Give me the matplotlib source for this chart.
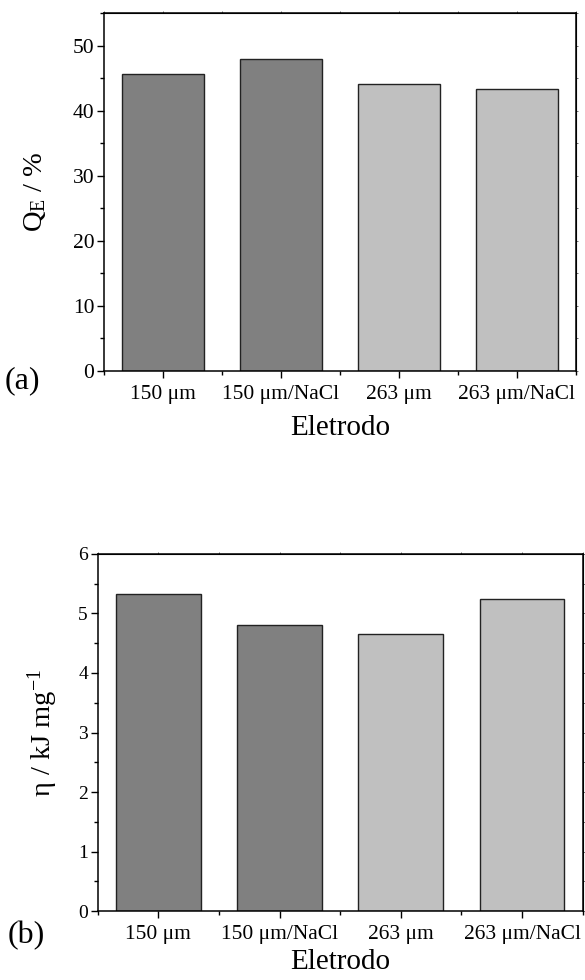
import matplotlib
matplotlib.use("Agg")
import matplotlib.pyplot as plt
from matplotlib.ticker import MultipleLocator

# dados
eletrodos = ["150 μm", "150 μm/NaCl", "263 μm", "263 μm/NaCl"]
qe = [45.6, 48.0, 44.2, 43.3]          # Q_E / %
eta = [5.32, 4.80, 4.66, 5.25]         # η / kJ mg^-1
cores = ["#808080", "#808080", "#c0c0c0", "#c0c0c0"]

plt.rcParams["font.family"] = ["Liberation Serif", "DejaVu Serif"]
plt.rcParams["mathtext.fontset"] = "custom"
plt.rcParams["mathtext.rm"] = "Liberation Serif"
plt.rcParams["mathtext.it"] = "Liberation Serif:italic"

fig = plt.figure(figsize=(5.85, 9.8), dpi=100)
ax1 = fig.add_axes([0.1778, 0.6217, 0.8068, 0.3647])
ax2 = fig.add_axes([0.167, 0.0704, 0.829, 0.3643])


def painel(ax, vals, ymax, major, minor, ylabel, ysize):
    x = list(range(1, len(vals) + 1))
    ax.bar(x, vals, width=0.7, color=cores, edgecolor="#222222", linewidth=1.0)
    ax.set_xlim(0.5, len(vals) + 0.5)
    ax.set_ylim(0, ymax)
    ax.set_xticks(x)
    ax.set_xticklabels(eletrodos, fontsize=15.5)
    ax.xaxis.set_minor_locator(MultipleLocator(0.5))
    ax.yaxis.set_major_locator(MultipleLocator(major))
    ax.yaxis.set_minor_locator(MultipleLocator(minor))
    ax.tick_params(axis="both", which="major", direction="out", length=5,
                   width=1, labelsize=ysize, pad=2)
    ax.tick_params(axis="both", which="minor", direction="out", length=3, width=1)
    ax.tick_params(axis="x", which="major", labelsize=15.5, pad=5)
    # eixos de cima/direita com marcas bem pequenas (estilo Origin)
    sec_x = ax.secondary_xaxis("top")
    sec_x.set_xticks([i * 0.5 for i in range(1, 2 * len(vals) + 2)])
    sec_x.tick_params(length=1.5, width=0.6, labeltop=False, color="#555555")
    sec_y = ax.secondary_yaxis("right")
    sec_y.set_yticks([i * minor for i in range(int(ymax / minor) + 1)])
    sec_y.tick_params(length=1.5, width=0.6, labelright=False, color="#555555")
    for s in ax.spines.values():
        s.set_linewidth(1.1)
    ax.set_xlabel("Eletrodo", fontsize=21)
    ax.set_ylabel(ylabel, fontsize=20.5)


painel(ax1, qe, 55, 10, 5, r"Q$_\mathregular{E}$ / %", 15.5)
painel(ax2, eta, 6, 1, 0.5, r"η / kJ mg$^\mathregular{-1}$", 14)
ax1.xaxis.labelpad = 8
ax2.xaxis.labelpad = 4
ax1.yaxis.labelpad = 18
ax2.yaxis.labelpad = 13

fig.text(22 / 585, 1 - 381 / 980, "(a)", fontsize=23, ha="center", va="center")
fig.text(26 / 585, 1 - 936 / 980, "(b)", fontsize=23, ha="center", va="center")

fig.savefig("out.png", dpi=100)
plt.close(fig)
